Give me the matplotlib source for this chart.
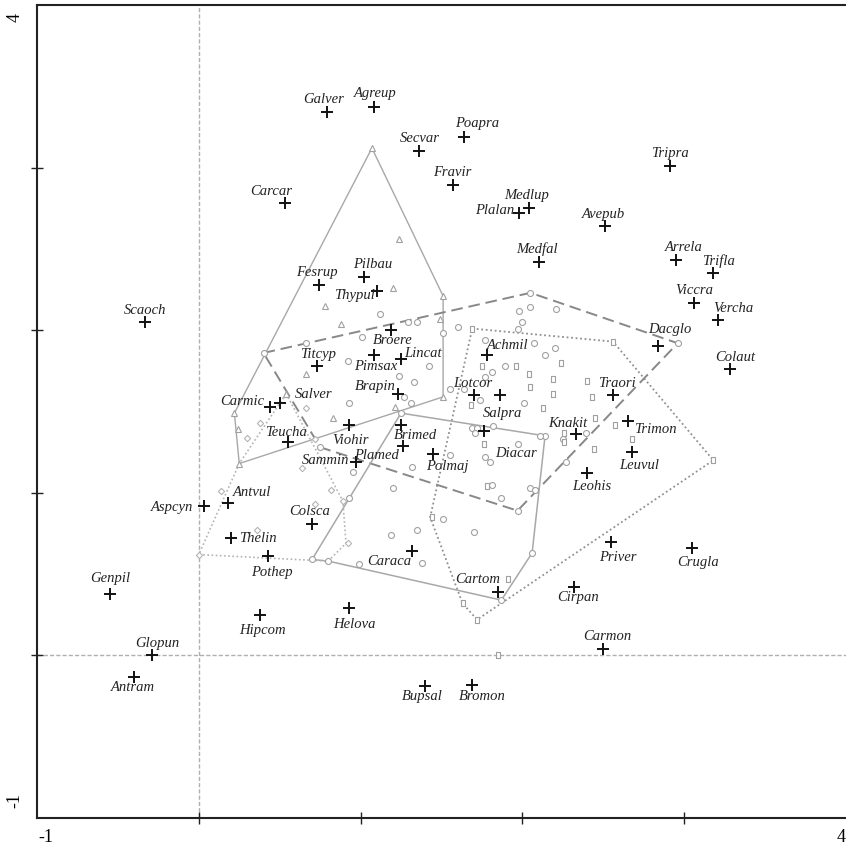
import matplotlib
matplotlib.use('Agg')
import matplotlib.pyplot as plt

# species scores (axis 1, axis 2)
species = ['Galver', 'Agreup', 'Secvar', 'Poapra', 'Fravir', 'Tripra', 'Carcar', 'Medlup',
           'Plalan', 'Avepub', 'Medfal', 'Arrela', 'Trifla', 'Fesrup', 'Pilbau', 'Thypul',
           'Viccra', 'Vercha', 'Scaoch', 'Dacglo', 'Colaut', 'Broere', 'Titcyp', 'Pimsax',
           'Lincat', 'Brapin', 'Carmic', 'Salver', 'Teucha', 'Viohir', 'Sammin', 'Brimed',
           'Plamed', 'Polmaj', 'Achmil', 'Lotcor', 'Salpra', 'Diacar', 'Traori', 'Knakit',
           'Trimon', 'Leuvul', 'Leohis', 'Priver', 'Crugla', 'Cirpan', 'Cartom', 'Carmon',
           'Caraca', 'Helova', 'Bupsal', 'Bromon', 'Colsca', 'Antvul', 'Aspcyn', 'Thelin',
           'Pothep', 'Hipcom', 'Genpil', 'Glopun', 'Antram']
sp_x = [0.79, 1.08, 1.36, 1.64, 1.57, 2.91, 0.53, 2.04,
        1.98, 2.51, 2.10, 2.95, 3.18, 0.74, 1.02, 1.10,
        3.06, 3.21, -0.33, 2.84, 3.28, 1.19, 0.73, 1.08,
        1.25, 1.23, 0.44, 0.50, 0.55, 0.93, 0.97, 1.25,
        1.26, 1.45, 1.78, 1.70, 1.86, 1.76, 2.56, 2.33,
        2.65, 2.68, 2.40, 2.55, 3.05, 2.32, 1.85, 2.50,
        1.32, 0.93, 1.40, 1.69, 0.70, 0.18, 0.03, 0.20,
        0.43, 0.38, -0.55, -0.29, -0.40]
sp_y = [3.34, 3.37, 3.10, 3.19, 2.89, 3.01, 2.78, 2.75,
        2.72, 2.64, 2.42, 2.43, 2.35, 2.28, 2.33, 2.24,
        2.17, 2.06, 2.05, 1.90, 1.76, 2.00, 1.78, 1.85,
        1.82, 1.61, 1.53, 1.55, 1.31, 1.42, 1.19, 1.42,
        1.29, 1.24, 1.85, 1.60, 1.60, 1.38, 1.60, 1.36,
        1.44, 1.25, 1.12, 0.70, 0.66, 0.42, 0.39, 0.04,
        0.64, 0.29, -0.19, -0.18, 0.81, 0.94, 0.92, 0.72,
        0.61, 0.25, 0.38, 0.00, -0.13]

# label placement (pixels from the point)
label_off = [(-3, 13), (2, 14), (1, 13), (13, 13), (-1, 13), (0, 12), (-13, 12), (-2, 13),
             (-24, 3), (-1, 12), (-2, 13), (8, 13), (5, 12), (-2, 12), (9, 12), (-22, -4),
             (0, 12), (15, 12), (0, 12), (12, 17), (6, 12), (1, -10), (1, 11), (2, -12),
             (22, 6), (-23, 7), (-28, 5), (34, 9), (-2, 10), (1, -16), (-30, 1), (14, -11),
             (-26, -10), (14, -13), (21, 9), (-1, 12), (3, -18), (32, -22), (4, 12), (-8, 11),
             (28, -8), (7, -13), (5, -13), (6, -16), (6, -14), (4, -10), (-20, 12), (4, 12),
             (-23, -10), (5, -16), (-3, -10), (10, -12), (-2, 12), (24, 10), (-32, -2), (27, 0),
             (4, -16), (2, -16), (0, 15), (5, 12), (-1, -11)]

# sample scores by group
circ_x = [1.12, 1.29, 1.35, 1.60, 0.66, 1.01, 1.51, 0.92, 1.42, 1.24, 1.33, 1.27, 1.31, 0.93,
          1.55, 1.98, 2.05, 2.21, 2.00, 1.97, 1.77, 2.07, 2.20, 2.14, 1.89, 1.81, 1.77, 1.64,
          1.74, 2.01, 2.05, 2.96, 1.97, 0.75, 0.40, 1.69, 1.72, 1.71, 1.82, 1.77, 1.80, 1.97,
          1.81, 2.05, 2.08, 1.87, 1.70, 1.51, 1.35, 1.38, 2.27, 2.39, 2.25, 1.19, 0.99, 1.20,
          0.93, 0.95, 1.25, 2.14, 2.11, 2.06, 1.87, 0.80, 0.70, 1.55, 1.32]
circ_y = [2.10, 2.05, 2.05, 2.02, 1.92, 1.96, 1.98, 1.81, 1.78, 1.72, 1.68, 1.59, 1.55, 1.55,
          1.64, 2.12, 2.14, 2.13, 2.05, 2.01, 1.94, 1.92, 1.89, 1.85, 1.78, 1.74, 1.71, 1.64,
          1.57, 1.55, 2.23, 1.92, 0.89, 1.28, 1.86, 1.40, 1.40, 1.37, 1.41, 1.22, 1.19, 1.30,
          1.05, 1.03, 1.02, 0.97, 0.76, 0.84, 0.77, 0.57, 1.19, 1.37, 1.33, 0.74, 0.56, 1.03,
          0.97, 1.13, 1.49, 1.35, 1.35, 0.63, 0.34, 0.58, 0.59, 1.23, 1.16]
rect_x = [1.69, 2.56, 1.75, 1.96, 2.24, 2.04, 2.05, 2.19, 2.19, 2.40, 2.43, 1.68, 2.13, 2.45,
          2.26, 2.26, 2.57, 2.68, 1.76, 1.78, 2.44, 3.18, 1.44, 1.63, 1.72, 1.91, 1.85]
rect_y = [2.01, 1.93, 1.78, 1.78, 1.80, 1.73, 1.65, 1.70, 1.61, 1.69, 1.59, 1.54, 1.52, 1.46,
          1.37, 1.31, 1.42, 1.33, 1.30, 1.04, 1.27, 1.20, 0.85, 0.32, 0.22, 0.47, 0.00]
tri_x = [1.07, 1.24, 1.20, 0.78, 1.51, 1.49, 0.88, 0.66, 0.54, 0.83, 0.22, 0.24, 1.21, 0.25, 1.51]
tri_y = [3.12, 2.56, 2.26, 2.15, 2.21, 2.07, 2.04, 1.73, 1.61, 1.46, 1.49, 1.39, 1.53, 1.18, 1.59]
dia_x = [0.30, 0.38, 0.66, 0.64, 0.82, 0.72, 0.36, 0.92, 0.89, 0.14, 0.00, 0.72]
dia_y = [1.34, 1.43, 1.52, 1.15, 1.02, 0.93, 0.77, 0.69, 0.95, 1.01, 0.62, 1.33]

# envelopes of the sample groups (hull vertices)
hull_tri = [(1.07, 3.12), (1.51, 2.21), (1.51, 1.59), (0.25, 1.18), (0.22, 1.49)]
hull_circ = [(0.40, 1.86), (2.05, 2.23), (2.96, 1.92), (1.97, 0.89), (0.75, 1.28)]
hull_rect = [(1.69, 2.01), (2.56, 1.93), (3.18, 1.20), (1.72, 0.22), (1.63, 0.32), (1.43, 0.85)]
hull_mid = [(1.25, 1.49), (2.14, 1.35), (2.06, 0.63), (1.87, 0.34), (0.80, 0.58), (0.70, 0.59)]
hull_dia = [(0.54, 1.61), (0.89, 0.95), (0.91, 0.69), (0.80, 0.58), (0.00, 0.62), (0.25, 1.18)]

fig = plt.figure(figsize=(8.46, 8.51), dpi=100)
ax = fig.add_axes([37 / 846, 33 / 851, 809 / 846, 813 / 851])
ax.set_xlim(-1, 4)
ax.set_ylim(-1, 4)

# zero lines
ax.axvline(0, color='#b0b0b0', lw=1, ls=(0, (3, 1.5)), zorder=1)
ax.axhline(0, color='#b0b0b0', lw=1, ls=(0, (3, 1.5)), zorder=1)


def draw_hull(pts, **kw):
    xs = [p[0] for p in pts] + [pts[0][0]]
    ys = [p[1] for p in pts] + [pts[0][1]]
    ax.plot(xs, ys, zorder=2, **kw)


draw_hull(hull_tri, color='#a8a8a8', lw=1.0, ls='-')
draw_hull(hull_circ, color='#888888', lw=1.4, ls=(0, (6, 3)))
draw_hull(hull_rect, color='#909090', lw=1.3, ls=(0, (1, 1.5)))
draw_hull(hull_mid, color='#a8a8a8', lw=1.1, ls='-')
draw_hull(hull_dia, color='#b4b4b4', lw=1.2, ls=(0, (1, 1.5)))

# tall narrow box like the reference sample symbol
box = [(-0.55, -1), (0.55, -1), (0.55, 1), (-0.55, 1), (-0.55, -1)]
mk = dict(ls='none', mfc='white', mew=0.8, zorder=3)
ax.plot(circ_x, circ_y, marker='o', ms=4.3, mec='#a0a0a0', **mk)
ax.plot(rect_x, rect_y, marker=box, ms=5, mec='#a0a0a0', **mk)
ax.plot(tri_x, tri_y, marker='^', ms=5, mec='#a0a0a0', **mk)
ax.plot(dia_x, dia_y, marker='D', ms=3.2, mec='#b4b4b4', **mk)

# species
ax.plot(sp_x, sp_y, ls='none', marker='+', ms=8.5, mew=1.4, color='#111111', zorder=4)
for name, x, y, off in zip(species, sp_x, sp_y, label_off):
    ax.annotate(name, (x, y), xytext=off, textcoords='offset pixels',
                ha='center', va='center', fontsize=10.5, style='italic',
                family='Liberation Serif', color='#222222', zorder=5)

for s in ['left', 'top', 'bottom']:
    ax.spines[s].set_linewidth(1.5)
    ax.spines[s].set_color('#222222')
ax.spines['right'].set_visible(False)

ax.set_xticks([0, 1, 2, 3])
ax.set_yticks([0, 1, 2, 3])
ax.set_xticklabels([])
ax.set_yticklabels([])
ax.tick_params(direction='inout', length=8, width=1, color='#222222')

fig.text(46 / 846, 1 - 838 / 851, '-1', ha='center', va='center', fontsize=13,
         family='Liberation Serif')
fig.text(841 / 846, 1 - 838 / 851, '4', ha='center', va='center', fontsize=13,
         family='Liberation Serif')
fig.text(15 / 846, 1 - 18 / 851, '4', ha='center', va='center', fontsize=13,
         family='Liberation Serif', rotation=90)
fig.text(15 / 846, 1 - 800 / 851, '-1', ha='center', va='center', fontsize=13,
         family='Liberation Serif', rotation=90)

fig.savefig('out.png', dpi=100)
